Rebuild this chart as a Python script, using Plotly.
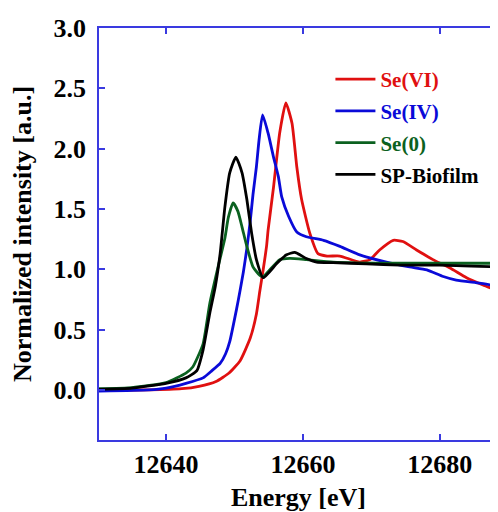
import plotly.graph_objects as go

# Se(VI)
red_x = [12630.2, 12637.5, 12642.3, 12644.8, 12647.3, 12649.2, 12650.8, 12652.3, 12653.2, 12653.7,
         12654.2, 12654.7, 12654.9, 12655.7, 12656.6, 12657.5, 12658.4, 12659.1, 12659.8, 12661.0,
         12662.2, 12663.5, 12665.4, 12668.3, 12669.8, 12671.2, 12673.2, 12674.6, 12676.6, 12679.0,
         12681.5, 12683.9, 12686.3, 12688.5]
red_y = [0.0, 0.0, 0.01, 0.03, 0.07, 0.14, 0.24, 0.43, 0.63, 0.82,
         1.00, 1.20, 1.32, 1.68, 2.13, 2.38, 2.21, 1.85, 1.58, 1.30,
         1.13, 1.11, 1.11, 1.06, 1.08, 1.16, 1.24, 1.23, 1.16, 1.08,
         1.01, 0.93, 0.87, 0.82]

# Se(IV)
blue_x = [12630.2, 12637.5, 12640.0, 12642.9, 12645.4, 12646.7, 12647.9, 12648.7, 12649.3, 12650.3,
          12650.8, 12651.3, 12651.8, 12652.3, 12652.7, 12653.2, 12653.6, 12654.1, 12654.9, 12655.7,
          12656.4, 12656.9, 12657.9, 12659.1, 12660.5, 12663.0, 12665.4, 12668.3, 12672.2, 12675.6,
          12678.1, 12680.5, 12682.4, 12685.8, 12688.5]
blue_y = [-0.01, 0.0, 0.015, 0.055, 0.10, 0.16, 0.22, 0.30, 0.40, 0.67,
          0.82, 0.98, 1.17, 1.40, 1.62, 1.85, 2.08, 2.28, 2.13, 1.93,
          1.77, 1.60, 1.44, 1.31, 1.27, 1.24, 1.19, 1.12, 1.06, 1.02,
          0.995, 0.94, 0.91, 0.885, 0.86]

# Se(0)
green_x = [12630.2, 12635.0, 12640.0, 12642.9, 12643.9, 12645.4, 12646.4, 12647.6, 12648.6, 12649.1,
           12649.8, 12650.5, 12651.1, 12651.8, 12652.7, 12653.7, 12654.2, 12656.6, 12658.1, 12660.5,
           12664.4, 12674.2, 12688.5]
green_y = [0.01, 0.02, 0.06, 0.14, 0.19, 0.38, 0.72, 1.02, 1.26, 1.43,
           1.55, 1.48, 1.35, 1.19, 1.02, 0.95, 0.94, 1.08, 1.09, 1.08,
           1.06, 1.05, 1.05]

# SP-Biofilm
black_x = [12630.2, 12635.0, 12640.0, 12642.9, 12644.5, 12645.4, 12646.4, 12647.2, 12647.9, 12648.6,
           12649.3, 12650.2, 12651.1, 12651.8, 12652.5, 12653.2, 12654.2, 12656.2, 12657.6, 12658.8,
           12660.5, 12662.0, 12664.4, 12669.3, 12674.2, 12680.0, 12688.5]
black_y = [0.005, 0.015, 0.055, 0.10, 0.16, 0.33, 0.64, 0.86, 1.13, 1.52,
           1.80, 1.93, 1.80, 1.58, 1.30, 1.08, 0.93, 1.05, 1.12, 1.14,
           1.09, 1.06, 1.055, 1.045, 1.035, 1.035, 1.02]

series_names = ["Se(VI)", "Se(IV)", "Se(0)", "SP-Biofilm"]
series_colors = ["#e01010", "#0a0ad8", "#0b6120", "#000000"]
xs = [red_x, blue_x, green_x, black_x]
ys = [red_y, blue_y, green_y, black_y]

FONT = "Times New Roman, Liberation Serif, serif"
AXC = "#3a3ae0"

fig = go.Figure()
for i in range(4):
    fig.add_trace(go.Scatter(
        x=xs[i], y=ys[i], mode="lines",
        line=dict(color=series_colors[i], width=2.8, shape="spline", smoothing=0.5),
        name=f"<b><span style='color:{series_colors[i]}'>{series_names[i]}</span></b>",
        legendgroup=str(i),
    ))

# page body has an 8px margin: figure is 490x504 placed at (8,8)
fig.update_layout(
    width=490, height=504,
    margin=dict(l=91, r=0, t=20, b=72),
    paper_bgcolor="white", plot_bgcolor="white",
    font=dict(family=FONT, size=26, color="black"),
    showlegend=True,
    legend=dict(x=0.58, y=0.925, xanchor="left", yanchor="top",
                bgcolor="rgba(0,0,0,0)", borderwidth=0,
                font=dict(family=FONT, size=21),
                traceorder="grouped", tracegroupgap=1.5, itemwidth=40),
    xaxis=dict(range=[12630.2, 12688.5], tick0=12640, dtick=20, tickformat="d",
               showline=True, linecolor=AXC, linewidth=1.5, mirror="ticks",
               ticks="inside", ticklen=6, tickcolor=AXC, tickwidth=1.5,
               showgrid=False, zeroline=False, automargin=False,
               tickprefix="<b>", ticksuffix="</b>",
               tickfont=dict(family=FONT, size=26),
               title=dict(text="<b>Energy [eV]</b>", standoff=10,
                          font=dict(family=FONT, size=26))),
    yaxis=dict(range=[-0.415, 3.0], tick0=0, dtick=0.5, tickformat=".1f",
               showline=True, linecolor=AXC, linewidth=1.5, mirror=False,
               ticks="inside", ticklen=6, tickcolor=AXC, tickwidth=1.5,
               showgrid=False, zeroline=False, ticklabelstandoff=6, automargin=False,
               tickprefix="<b>", ticksuffix="</b>",
               tickfont=dict(family=FONT, size=26),
               title=dict(text="<b>Normalized intensity [a.u.]</b>", standoff=14,
                          font=dict(family=FONT, size=26))),
)

fig.write_html("out.html")
